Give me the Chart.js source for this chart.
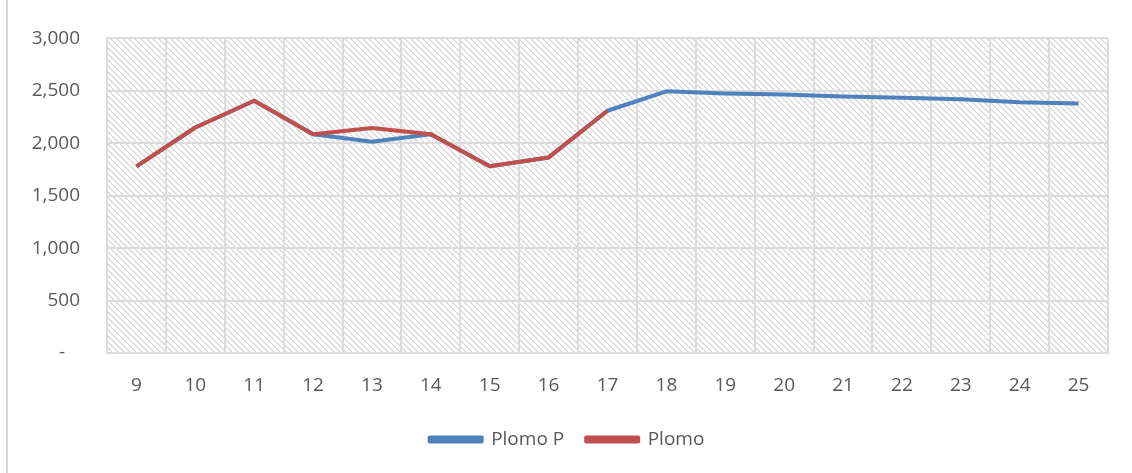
<!DOCTYPE html>
<html>
<head>
<meta charset="utf-8">
<script src="https://cdn.jsdelivr.net/npm/chart.js@4/dist/chart.umd.min.js"></script>
<style>
  html, body { margin: 0; padding: 0; background: #fff; }
  #wrap { position: relative; width: 1132px; height: 473px; }
  #edge { position: absolute; left: 6px; top: 0; width: 2px; height: 473px; background: #d9d9d9; }
</style>
</head>
<body>
<div id="wrap">
  <div id="edge"></div>
  <canvas id="chart" width="1132" height="473"></canvas>
</div>
<script>
// x categories and series
const labels = ['9', '10', '11', '12', '13', '14', '15', '16', '17', '18', '19', '20', '21', '22', '23', '24', '25'];
const plomoP = [1780, 2150, 2405, 2085, 2015, 2085, 1780, 1865, 2310, 2495, 2475, 2465, 2445, 2435, 2420, 2390, 2380];
const plomo = [1780, 2150, 2405, 2085, 2145, 2085, 1780, 1865, 2310, null, null, null, null, null, null, null, null];
const yTicks = [0, 500, 1000, 1500, 2000, 2500, 3000];

const textColor = '#595959';
const gridColor = '#dcdcdc';
const fontFamily = 'Open Sans';

// diagonal hatch like the excel "wide downward diagonal" fill
function makeHatch() {
  const c = document.createElement('canvas');
  c.width = 6; c.height = 6;
  const g = c.getContext('2d');
  g.fillStyle = '#ffffff';
  g.fillRect(0, 0, 6, 6);
  g.strokeStyle = '#d2d2d2';
  g.lineWidth = 1.2;
  g.beginPath();
  g.moveTo(-1, -1); g.lineTo(7, 7);
  g.moveTo(-4, 2); g.lineTo(4, 10);
  g.moveTo(2, -4); g.lineTo(10, 4);
  g.stroke();
  return g.createPattern(c, 'repeat');
}

const hatchBg = {
  id: 'hatchBg',
  beforeDraw(chart) {
    const { ctx, chartArea: a } = chart;
    ctx.save();
    ctx.fillStyle = makeHatch();
    ctx.fillRect(a.left, a.top, a.right - a.left, a.bottom - a.top);
    ctx.restore();
  }
};

const ctx = document.getElementById('chart').getContext('2d');
new Chart(ctx, {
  type: 'line',
  data: {
    labels: labels,
    datasets: [{
      label: 'Plomo P',
      data: plomoP,
      borderColor: '#4F81BD',
      backgroundColor: '#4F81BD',
      borderWidth: 4,
      borderJoinStyle: 'round',
      pointRadius: 0,
      tension: 0,
      order: 2
    }, {
      label: 'Plomo',
      data: plomo,
      borderColor: '#C0504D',
      backgroundColor: '#C0504D',
      borderWidth: 4,
      borderJoinStyle: 'round',
      pointRadius: 0,
      tension: 0,
      spanGaps: false,
      order: 1
    }]
  },
  options: {
    responsive: false,
    animation: false,
    // a bit of left padding nudges the legend right, like the reference
    layout: { padding: { left: 26, right: 24, top: 38, bottom: 14 } },
    scales: {
      x: {
        offset: true,
        grid: { offset: true, color: gridColor, lineWidth: 2, drawTicks: false },
        border: { color: gridColor, width: 2 },
        ticks: { color: textColor, font: { family: fontFamily, size: 19 }, padding: 21 },
        afterFit(axis) { axis.height = 55; }
      },
      y: {
        min: 0,
        max: 3000,
        afterBuildTicks(axis) { axis.ticks = yTicks.map(v => ({ value: v })); },
        grid: { color: gridColor, lineWidth: 2, drawTicks: false },
        border: { color: gridColor, width: 2 },
        ticks: {
          color: textColor,
          font: { family: fontFamily, size: 19 },
          padding: 27,
          callback: v => v === 0 ? '-   ' : v.toLocaleString('en-US')
        },
        afterFit(axis) { axis.width = 81; }
      }
    },
    plugins: {
      legend: {
        position: 'bottom',
        labels: {
          color: textColor,
          font: { family: fontFamily, size: 19 },
          boxWidth: 52,
          boxHeight: 4,
          padding: 22,
          sort: (a, b) => a.datasetIndex - b.datasetIndex
        }
      },
      tooltip: { enabled: false }
    }
  },
  plugins: [hatchBg]
});
</script>
</body>
</html>
